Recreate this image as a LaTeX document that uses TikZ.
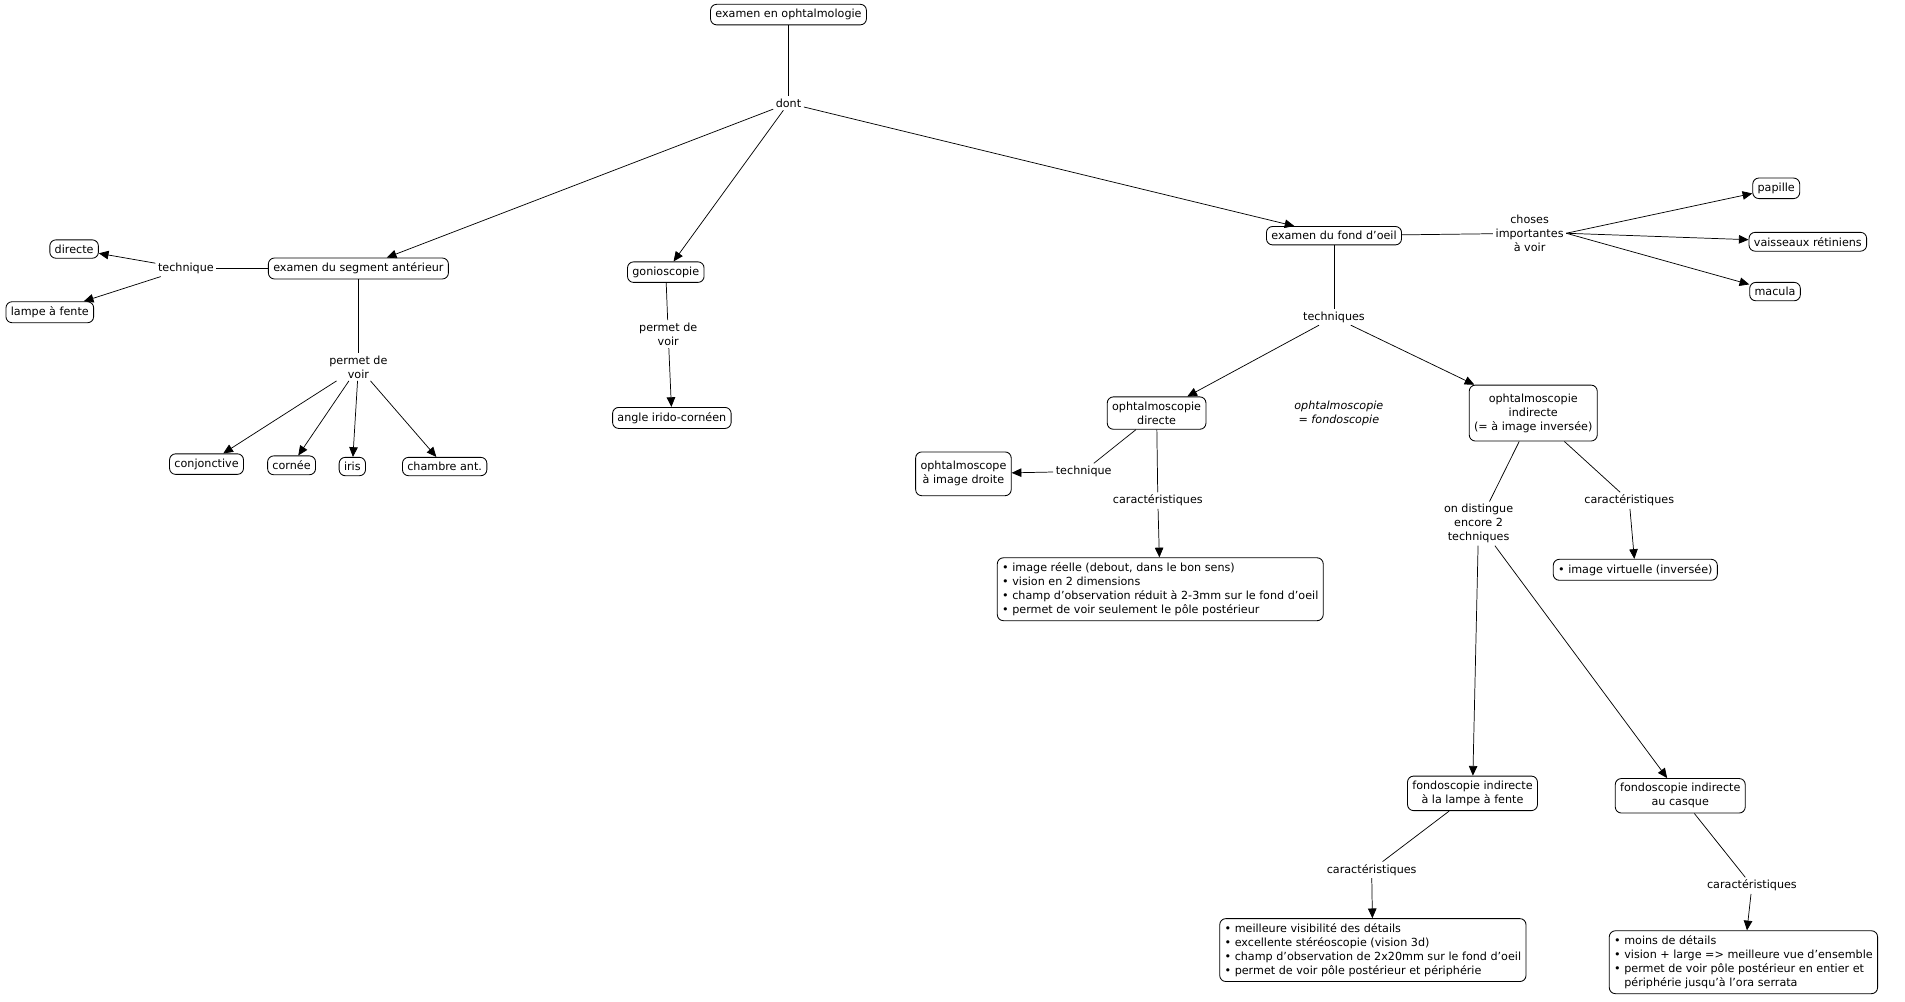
\documentclass[tikz,border=0pt]{standalone}
\usepackage{fontspec}
\setmainfont{DejaVu Sans}
\usetikzlibrary{arrows.meta}
\begin{document}
\begin{tikzpicture}[x={(1pt,0)},y={(0,-1pt)},
 every node/.style={font=\fontsize{9.2}{11.5}\selectfont},
 c/.style={draw,rounded corners=5pt,line width=0.7pt,align=center,inner sep=4pt,fill=white},
 l/.style={align=center,inner sep=2pt,fill=white},
 li/.style={c,align=left},
 e/.style={line width=0.6pt},
 a/.style={line width=0.6pt,-{Triangle[length=8pt,width=7pt]}}]
\useasboundingbox (0,0) rectangle (1568,824);
\node[c] (exam) at (649,12) {examen en ophtalmologie};
\node[l] (dont) at (649,85) {dont};
\node[c] (seg) at (295,221) {examen du segment antérieur};
\node[c] (gon) at (548,224) {gonioscopie};
\node[c] (fond) at (1098,194) {examen du fond d'oeil};
\node[l] (tech1) at (153,221) {technique};
\node[c] (dir) at (61,205) {directe};
\node[c] (lamp) at (41,257) {lampe à fente};
\node[l] (pv1) at (295,302) {permet de\\voir};
\node[c] (conj) at (170,382) {conjonctive};
\node[c] (corn) at (240,383) {cornée};
\node[c] (iris) at (290,384) {iris};
\node[c] (cham) at (366,384) {chambre ant.};
\node[l] (pv2) at (550,275) {permet de\\voir};
\node[c] (angl) at (553,344) {angle irido-cornéen};
\node[l] (chos) at (1259,192) {choses\\importantes\\à voir};
\node[c] (pap) at (1462,155) {papille};
\node[c] (vais) at (1488,199) {vaisseaux rétiniens};
\node[c] (mac) at (1461,240) {macula};
\node[l] (techs) at (1098,261) {techniques};
\node[c] (odir) at (952,340) {ophtalmoscopie\\directe};
\node[l,font=\fontsize{9.2}{11.5}\selectfont\itshape] (note) at (1102,340) {ophtalmoscopie\\= fondoscopie};
\node[c,minimum height=46pt] (oind) at (1262,340) {ophtalmoscopie\\indirecte\\(= à image inversée)};
\node[l] (tech2) at (892,388) {technique};
\node[c,minimum height=36pt] (oimg) at (793,390) {ophtalmoscope\\à image droite};
\node[l] (car1) at (953,412) {caractéristiques};
\node[li] (b1) at (955,485) {• image réelle (debout, dans le bon sens)\\• vision en 2 dimensions\\• champ d'observation réduit à 2-3mm sur le fond d'oeil\\• permet de voir seulement le pôle postérieur};
\node[l] (dist) at (1217,431) {on distingue\\encore 2\\techniques};
\node[l] (car2) at (1341,412) {caractéristiques};
\node[c] (virt) at (1346,469) {• image virtuelle (inversée)};
\node[c] (flam) at (1212,653) {fondoscopie indirecte\\à la lampe à fente};
\node[c] (fcas) at (1383,655) {fondoscopie indirecte\\au casque};
\node[l] (car3) at (1129,716) {caractéristiques};
\node[li] (b2) at (1130,782) {• meilleure visibilité des détails\\• excellente stéréoscopie (vision 3d)\\• champ d'observation de 2x20mm sur le fond d'oeil\\• permet de voir pôle postérieur et périphérie};
\node[l] (car4) at (1442,729) {caractéristiques};
\node[li] (b3) at (1435,792) {• moins de détails\\• vision + large => meilleure vue d'ensemble\\• permet de voir pôle postérieur en entier et\\\phantom{• }périphérie jusqu'à l'ora serrata};
\draw[e] (exam)--(dont);
\draw[a] (dont)--(seg); \draw[a] (dont)--(gon); \draw[a] (dont)--(fond);
\draw[e] (seg)--(tech1); \draw[a] (tech1)--(dir); \draw[a] (tech1)--(lamp);
\draw[e] (seg)--(pv1);
\draw[a] (pv1)--(conj); \draw[a] (pv1)--(corn); \draw[a] (pv1)--(iris); \draw[a] (pv1)--(cham);
\draw[e] (gon)--(pv2); \draw[a] (pv2)--(angl);
\draw[e] (fond)--(chos); \draw[a] (chos.east)--(pap); \draw[a] (chos.east)--(vais); \draw[a] (chos.east)--(mac);
\draw[e] (fond)--(techs); \draw[a] (techs)--(odir); \draw[a] (techs)--(oind);
\draw[e] (odir)--(tech2); \draw[a] (tech2)--(oimg);
\draw[e] (odir)--(car1); \draw[a] (car1)--(b1);
\draw[e] (oind)--(dist); \draw[a] (dist)--(flam); \draw[a] (dist)--(fcas);
\draw[e] (oind)--(car2); \draw[a] (car2)--(virt);
\draw[e] (flam)--(car3); \draw[a] (car3)--(b2);
\draw[e] (fcas)--(car4); \draw[a] (car4)--(b3);
\end{tikzpicture}
\end{document}
